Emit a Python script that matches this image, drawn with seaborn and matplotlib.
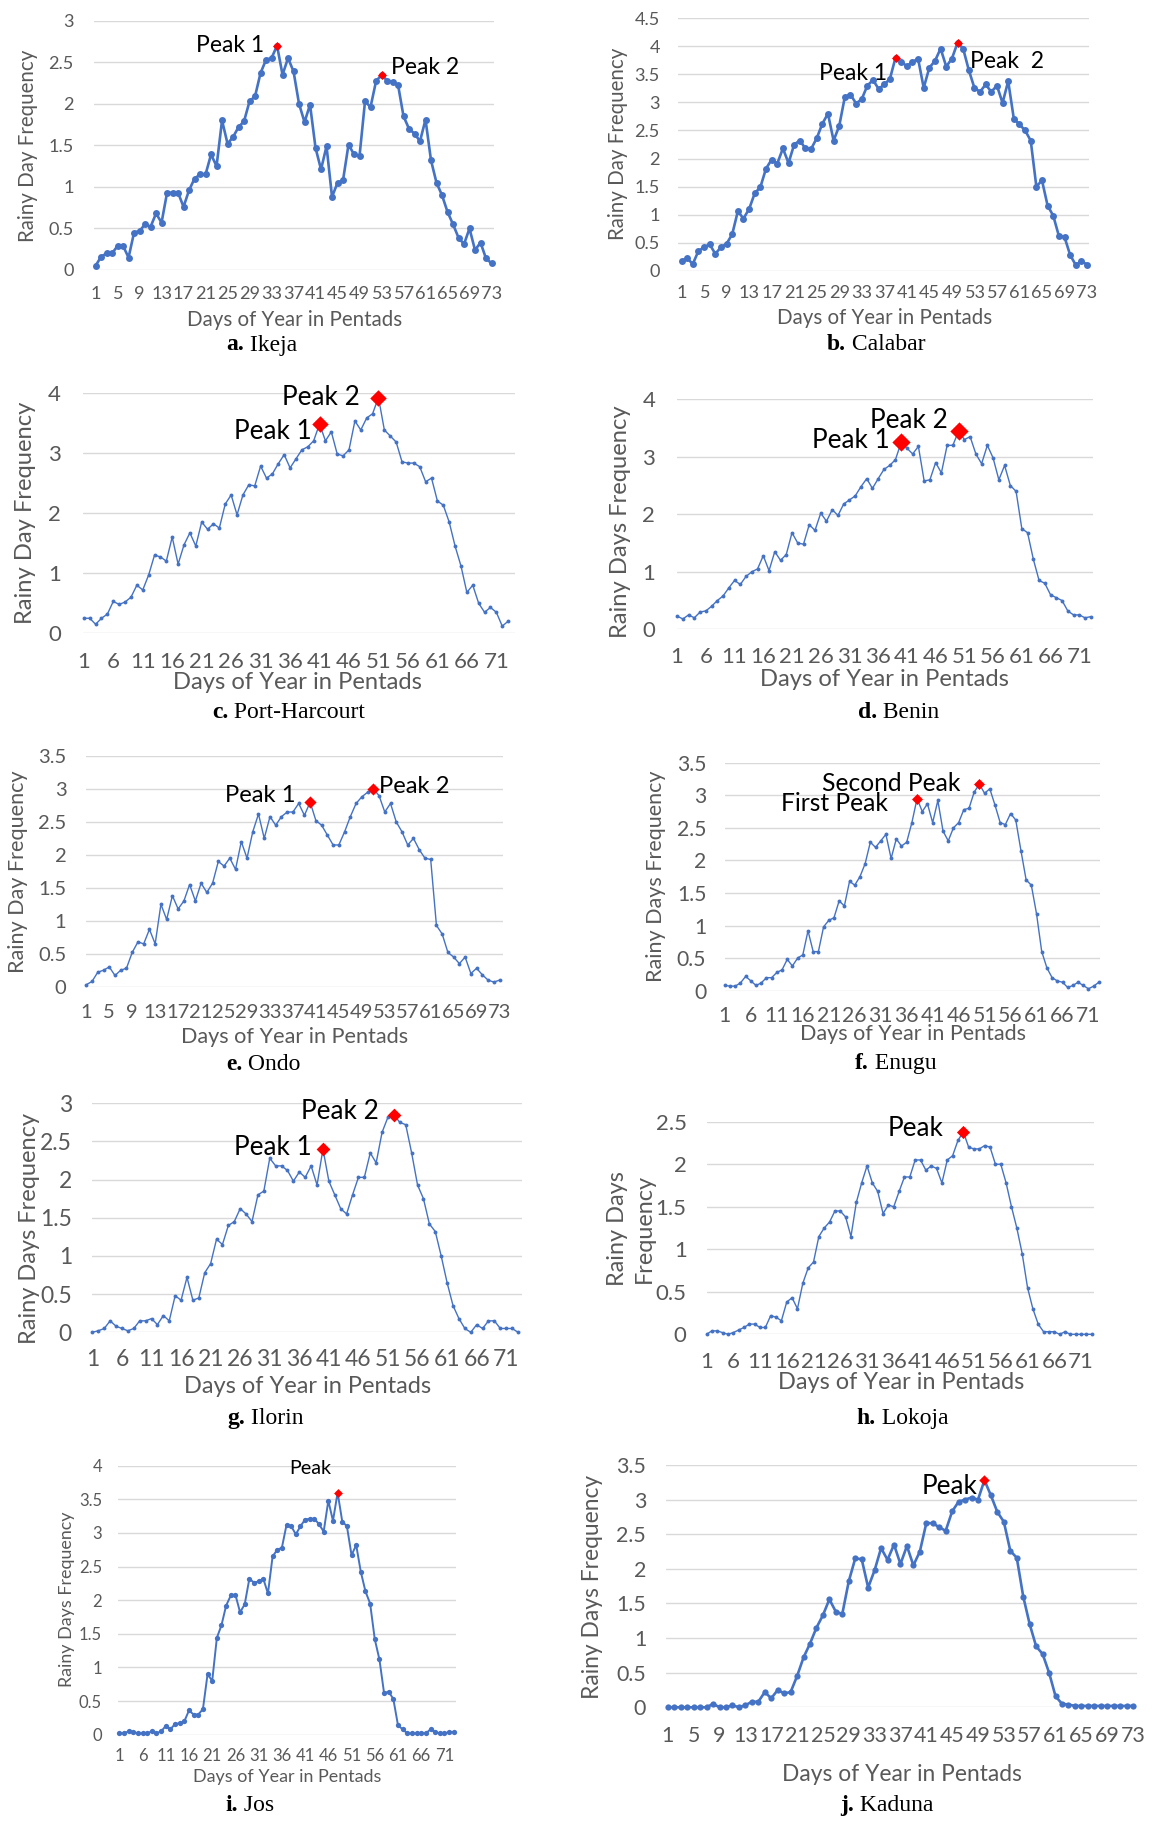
import numpy as np
import pandas as pd
import matplotlib
matplotlib.use("Agg")
import matplotlib.pyplot as plt
from matplotlib.ticker import FuncFormatter
import seaborn as sns

# ---------------------------------------------------------------- data
pentads = list(range(1, 74))

ikeja = [0.05, 0.16, 0.20, 0.20, 0.29, 0.29, 0.15, 0.45, 0.47, 0.55,
         0.52, 0.68, 0.57, 0.93, 0.93, 0.93, 0.76, 0.96, 1.10, 1.15,
         1.15, 1.39, 1.25, 1.80, 1.52, 1.60, 1.72, 1.79, 2.03, 2.09,
         2.37, 2.53, 2.55, 2.70, 2.35, 2.55, 2.39, 2.00, 1.78, 1.99,
         1.47, 1.21, 1.49, 0.88, 1.05, 1.08, 1.51, 1.39, 1.37, 2.03,
         1.96, 2.27, 2.35, 2.28, 2.26, 2.23, 1.85, 1.70, 1.64, 1.55,
         1.81, 1.32, 1.05, 0.90, 0.70, 0.55, 0.39, 0.31, 0.50, 0.24,
         0.33, 0.14, 0.08]

calabar = [0.18, 0.22, 0.12, 0.35, 0.42, 0.47, 0.30, 0.42, 0.48, 0.65,
           1.06, 0.93, 1.10, 1.38, 1.49, 1.82, 1.98, 1.91, 2.18, 1.92,
           2.25, 2.32, 2.18, 2.17, 2.36, 2.62, 2.80, 2.32, 2.58, 3.10,
           3.14, 2.98, 3.06, 3.30, 3.40, 3.24, 3.32, 3.42, 3.80, 3.72,
           3.65, 3.72, 3.78, 3.26, 3.62, 3.74, 3.96, 3.64, 3.78, 4.06,
           3.96, 3.58, 3.26, 3.19, 3.32, 3.19, 3.30, 2.99, 3.38, 2.71,
           2.61, 2.50, 2.32, 1.50, 1.61, 1.16, 0.98, 0.62, 0.60, 0.28,
           0.10, 0.17, 0.11]

port_harcourt = [0.25, 0.25, 0.15, 0.25, 0.32, 0.53, 0.48, 0.52, 0.60, 0.80,
                 0.72, 0.97, 1.30, 1.27, 1.20, 1.60, 1.15, 1.47, 1.67, 1.45,
                 1.85, 1.73, 1.82, 1.75, 2.15, 2.30, 1.97, 2.30, 2.47, 2.45,
                 2.78, 2.58, 2.65, 2.82, 2.97, 2.75, 2.90, 3.05, 3.10, 3.20,
                 3.48, 3.20, 3.35, 2.98, 2.95, 3.05, 3.53, 3.38, 3.58, 3.65,
                 3.92, 3.38, 3.28, 3.18, 2.85, 2.83, 2.83, 2.77, 2.52, 2.58,
                 2.20, 2.13, 1.85, 1.45, 1.12, 0.68, 0.80, 0.50, 0.35, 0.43,
                 0.35, 0.12, 0.20]

benin = [0.23, 0.18, 0.25, 0.20, 0.30, 0.32, 0.40, 0.50, 0.58, 0.72,
         0.85, 0.78, 0.92, 1.00, 1.05, 1.28, 1.02, 1.35, 1.20, 1.30,
         1.68, 1.50, 1.48, 1.82, 1.72, 2.02, 1.88, 2.08, 1.98, 2.18,
         2.25, 2.32, 2.48, 2.62, 2.45, 2.62, 2.78, 2.85, 2.95, 3.25,
         3.15, 3.05, 3.18, 2.58, 2.60, 2.90, 2.72, 3.20, 3.20, 3.45,
         3.30, 3.35, 3.05, 2.88, 3.20, 2.98, 2.60, 2.85, 2.50, 2.40,
         1.75, 1.68, 1.22, 0.85, 0.80, 0.60, 0.55, 0.50, 0.32, 0.25,
         0.25, 0.20, 0.22]

ondo = [0.03, 0.08, 0.22, 0.25, 0.30, 0.17, 0.25, 0.28, 0.52, 0.68,
        0.65, 0.87, 0.65, 1.25, 1.02, 1.38, 1.18, 1.30, 1.55, 1.30,
        1.57, 1.43, 1.57, 1.90, 1.83, 1.95, 1.78, 2.20, 1.95, 2.35,
        2.62, 2.25, 2.58, 2.45, 2.58, 2.65, 2.65, 2.78, 2.60, 2.80,
        2.52, 2.45, 2.30, 2.15, 2.15, 2.35, 2.58, 2.78, 2.88, 2.95,
        3.00, 2.90, 2.65, 2.78, 2.50, 2.35, 2.15, 2.25, 2.08, 1.95,
        1.93, 0.93, 0.80, 0.52, 0.45, 0.35, 0.45, 0.20, 0.28, 0.18,
        0.10, 0.07, 0.10]

enugu = [0.08, 0.07, 0.07, 0.12, 0.22, 0.15, 0.08, 0.12, 0.20, 0.20,
         0.28, 0.32, 0.48, 0.38, 0.50, 0.55, 0.92, 0.60, 0.60, 0.98,
         1.08, 1.12, 1.38, 1.30, 1.68, 1.62, 1.75, 1.95, 2.28, 2.20,
         2.30, 2.40, 2.03, 2.33, 2.22, 2.28, 2.58, 2.95, 2.75, 2.87,
         2.58, 2.92, 2.45, 2.30, 2.50, 2.58, 2.78, 2.80, 3.05, 3.17,
         3.03, 3.10, 2.85, 2.58, 2.55, 2.72, 2.62, 2.15, 1.70, 1.62,
         1.18, 0.60, 0.35, 0.20, 0.15, 0.13, 0.05, 0.08, 0.13, 0.08,
         0.03, 0.07, 0.13]

ilorin = [0.00, 0.02, 0.05, 0.15, 0.08, 0.05, 0.02, 0.05, 0.15, 0.15,
          0.18, 0.10, 0.22, 0.15, 0.48, 0.42, 0.72, 0.42, 0.45, 0.78,
          0.90, 1.22, 1.15, 1.40, 1.45, 1.62, 1.55, 1.45, 1.80, 1.85,
          2.28, 2.18, 2.18, 2.12, 1.98, 2.10, 2.03, 2.18, 1.93, 2.40,
          1.98, 1.80, 1.62, 1.55, 1.80, 2.03, 2.03, 2.35, 2.22, 2.62,
          2.82, 2.85, 2.75, 2.72, 2.35, 1.93, 1.75, 1.42, 1.32, 1.00,
          0.65, 0.35, 0.18, 0.05, 0.00, 0.10, 0.05, 0.15, 0.15, 0.05,
          0.05, 0.05, 0.00]

lokoja = [0.00, 0.04, 0.04, 0.02, 0.00, 0.02, 0.05, 0.08, 0.12, 0.12,
          0.08, 0.08, 0.22, 0.20, 0.16, 0.38, 0.43, 0.30, 0.60, 0.78,
          0.85, 1.15, 1.25, 1.32, 1.45, 1.45, 1.38, 1.15, 1.55, 1.78,
          1.98, 1.78, 1.68, 1.42, 1.52, 1.50, 1.68, 1.85, 1.85, 2.05,
          2.05, 1.93, 1.98, 1.95, 1.78, 2.05, 2.10, 2.28, 2.38, 2.20,
          2.18, 2.18, 2.22, 2.20, 2.00, 2.00, 1.78, 1.50, 1.25, 0.95,
          0.55, 0.30, 0.12, 0.03, 0.03, 0.03, 0.00, 0.03, 0.00, 0.00,
          0.00, 0.00, 0.00]

jos = [0.02, 0.02, 0.05, 0.04, 0.02, 0.02, 0.02, 0.05, 0.02, 0.05,
       0.13, 0.08, 0.16, 0.17, 0.20, 0.36, 0.30, 0.30, 0.38, 0.90,
       0.80, 1.44, 1.63, 1.92, 2.07, 2.08, 1.82, 1.94, 2.32, 2.26,
       2.28, 2.32, 2.10, 2.65, 2.75, 2.78, 3.12, 3.10, 2.98, 3.10,
       3.20, 3.21, 3.21, 3.13, 3.02, 3.48, 3.18, 3.60, 3.17, 3.10,
       2.67, 2.82, 2.42, 2.13, 1.95, 1.42, 1.12, 0.62, 0.64, 0.53,
       0.14, 0.08, 0.02, 0.02, 0.02, 0.02, 0.02, 0.08, 0.04, 0.02,
       0.02, 0.04, 0.04]

kaduna = [0.00, 0.00, 0.00, 0.00, 0.00, 0.00, 0.00, 0.05, 0.00, 0.00,
          0.03, 0.00, 0.03, 0.08, 0.08, 0.22, 0.13, 0.25, 0.20, 0.22,
          0.45, 0.72, 0.92, 1.15, 1.33, 1.56, 1.38, 1.35, 1.82, 2.15,
          2.14, 1.73, 1.98, 2.30, 2.13, 2.35, 2.07, 2.33, 2.05, 2.25,
          2.66, 2.66, 2.60, 2.55, 2.83, 2.97, 3.00, 3.03, 3.00, 3.28,
          3.06, 2.82, 2.68, 2.26, 2.16, 1.60, 1.20, 0.88, 0.77, 0.50,
          0.16, 0.05, 0.04, 0.02, 0.02, 0.02, 0.02, 0.02, 0.02, 0.02,
          0.02, 0.02, 0.02]

# peak pentads and their labels
ikeja_peaks = [(34, "Peak 1"), (53, "Peak 2")]
calabar_peaks = [(39, "Peak 1"), (50, "Peak  2")]
port_harcourt_peaks = [(41, "Peak 1"), (51, "Peak 2")]
benin_peaks = [(40, "Peak 1"), (50, "Peak 2")]
ondo_peaks = [(40, "Peak 1"), (51, "Peak 2")]
enugu_peaks = [(38, "First Peak"), (50, "Second Peak")]
ilorin_peaks = [(40, "Peak 1"), (52, "Peak 2")]
lokoja_peaks = [(49, "Peak")]
jos_peaks = [(48, "Peak")]
kaduna_peaks = [(50, "Peak")]

# ---------------------------------------------------------------- layout
W, H = 1153, 1821
BLUE = "#4472C4"
GREY_TXT = "#595959"
GRID = "#D9D9D9"

# box = (left, top, right, bottom) in pixels; label offsets in pixels
panels = [
    dict(letter="a", name="Ikeja", y=ikeja, peaks=ikeja_peaks,
         box=(93.7, 20.7, 493.7, 270), xlim=(0.66, 73.4), ymax=3, ystep=0.5, xstep=4,
         ylabel="Rainy Day Frequency", ylab_xy=(27.6, 146), xlab_xy=(294.8, 320),
         cap_xy=(261.7, 345), lw=1.9, ms=5.0, dms=4.6,
         tick_fs=13.1, lab_fs=14.8, peak_fs=16.5, xpad=11.5, ypad=14.3,
         offs=[(-13, 0, "right"), (9, 7, "left")]),
    dict(letter="b", name="Calabar", y=calabar, peaks=calabar_peaks,
         box=(678.2, 18.3, 1088.9, 270.7), xlim=(0.41, 73.33), ymax=4.5, ystep=0.5, xstep=4,
         ylabel="Rainy Day Frequency", ylab_xy=(617.9, 144), xlab_xy=(884.3, 318.3),
         cap_xy=(876.3, 345), lw=1.9, ms=5.0, dms=4.6,
         tick_fs=13.1, lab_fs=14.8, peak_fs=16.5, xpad=10.5, ypad=13.2,
         offs=[(-8.4, -15.7, "right"), (12, -19, "left")]),
    dict(letter="c", name="Port-Harcourt", y=port_harcourt, peaks=port_harcourt_peaks,
         box=(82.7, 392.7, 514.6, 633.3), xlim=(0.81, 74.1), ymax=4, ystep=1, xstep=5,
         ylabel="Rainy Day Frequency", ylab_xy=(25.3, 512.5), xlab_xy=(297.5, 682.3),
         cap_xy=(288.4, 712.3), lw=1.0, ms=2.8, dms=8.4,
         tick_fs=16, lab_fs=17.1, peak_fs=18.8, xpad=13.5, ypad=15.8,
         offs=[(-8.2, -7.4, "right"), (-18.4, 0, "right")]),
    dict(letter="d", name="Benin", y=benin, peaks=benin_peaks,
         box=(677.1, 399.3, 1092.5, 629.3), xlim=(1.0, 73.3), ymax=4, ystep=1, xstep=5,
         ylabel="Rainy Days Frequency", ylab_xy=(620.1, 521.7), xlab_xy=(884.8, 680),
         cap_xy=(898.9, 712), lw=1.0, ms=2.8, dms=9.3,
         tick_fs=16, lab_fs=17.1, peak_fs=18.8, xpad=13, ypad=15.8,
         offs=[(-11, 1.7, "right"), (-10.4, 10, "right")]),
    dict(letter="e", name="Ondo", y=ondo, peaks=ondo_peaks,
         box=(86.3, 756, 503.3, 986.7), xlim=(1.0, 73.65), ymax=3.5, ystep=0.5, xstep=4,
         ylabel="Rainy Day Frequency", ylab_xy=(17.6, 871.7), xlab_xy=(294.2, 1036.7),
         cap_xy=(263.4, 1065), lw=1.0, ms=2.8, dms=6.2,
         tick_fs=14.5, lab_fs=15.6, peak_fs=17.1, xpad=12.3, ypad=14.3,
         offs=[(-15, 6.7, "right"), (5.5, 2, "left")]),
    dict(letter="f", name="Enugu", y=enugu, peaks=enugu_peaks,
         box=(724.9, 762.7, 1099.9, 990.7), xlim=(1.0, 73.2), ymax=3.5, ystep=0.5, xstep=5,
         ylabel="Rainy Days Frequency", ylab_xy=(656.2, 876), xlab_xy=(913.3, 1034.3),
         cap_xy=(895.9, 1063.3), lw=1.0, ms=2.8, dms=5.6,
         tick_fs=15.2, lab_fs=15.5, peak_fs=17.7, xpad=11.3, ypad=13.4,
         offs=[(-28.7, -5, "right"), (-19.2, 1, "right")]),
    dict(letter="g", name="Ilorin", y=ilorin, peaks=ilorin_peaks,
         box=(91.8, 1103.3, 521.6, 1332.3), xlim=(0.9, 73.6), ymax=3, ystep=0.5, xstep=5,
         ylabel="Rainy Days Frequency", ylab_xy=(29.4, 1228), xlab_xy=(307.5, 1386.7),
         cap_xy=(265, 1418.3), lw=1.0, ms=2.8, dms=7.0,
         tick_fs=16.5, lab_fs=17, peak_fs=18.8, xpad=12.3, ypad=14.3,
         offs=[(-11, 1.3, "right"), (-14.8, 3.7, "right")]),
    dict(letter="h", name="Lokoja", y=lokoja, peaks=lokoja_peaks,
         box=(706.5, 1121.7, 1094.4, 1334.3), xlim=(1.0, 73.5), ymax=2.5, ystep=0.5, xstep=5,
         ylabel=None, ylab_xy=None, xlab_xy=(901.1, 1382.7),
         cap_xy=(902.2, 1418.3), lw=1.0, ms=2.8, dms=6.7,
         tick_fs=16, lab_fs=16.9, peak_fs=18.8, xpad=12.8, ypad=14.3,
         offs=[(-20.3, 3.7, "right")]),
    dict(letter="i", name="Jos", y=jos, peaks=jos_peaks,
         box=(118.2, 1465.7, 455.5, 1734.7), xlim=(0.76, 73.38), ymax=4, ystep=0.5, xstep=5,
         ylabel="Rainy Days Frequency", ylab_xy=(66.9, 1599), xlab_xy=(287.6, 1777.3),
         cap_xy=(250.2, 1805.7), lw=1.4, ms=3.8, dms=4.5,
         tick_fs=12, lab_fs=12.9, peak_fs=14.2, xpad=9.5, ypad=11.7,
         offs=[(-27.5, 24, "center")]),
    dict(letter="j", name="Kaduna", y=kaduna, peaks=kaduna_peaks,
         box=(666.1, 1465, 1136.7, 1707.3), xlim=(0.73, 73.56), ymax=3.5, ystep=0.5, xstep=4,
         ylabel="Rainy Days Frequency", ylab_xy=(592.5, 1586.7), xlab_xy=(902.3, 1774.3),
         cap_xy=(886.7, 1805.7), lw=1.9, ms=4.5, dms=5.3,
         tick_fs=15.4, lab_fs=16.4, peak_fs=18.8, xpad=13.3, ypad=14.3,
         offs=[(-7.4, -6, "right")]),
]

# ---------------------------------------------------------------- style
sns.set_theme(style="white")
plt.rcParams["font.family"] = ["Lato", "DejaVu Sans"]

fig = plt.figure(figsize=(W / 100, H / 100), dpi=100)
fig.patch.set_facecolor("white")
renderer = fig.canvas.get_renderer()


def fx(x):
    return x / W


def fy(y):
    return 1 - y / H


PX2PT = 72 / 100
CAP_FS = 17

for p in panels:
    l, t, r, b = p["box"]
    ax = fig.add_axes([fx(l), fy(b), (r - l) / W, (b - t) / H])
    df = pd.DataFrame({"pentad": pentads, "freq": p["y"]})
    sns.lineplot(data=df, x="pentad", y="freq", ax=ax, color=BLUE,
                 linewidth=p["lw"], marker="o", markersize=p["ms"],
                 markeredgewidth=0, markerfacecolor=BLUE, clip_on=False,
                 zorder=3)

    # red diamonds on the peaks, taken from the series itself
    pk_x = [pp for pp, _ in p["peaks"]]
    pk_y = [p["y"][pp - 1] for pp in pk_x]
    sns.scatterplot(x=pk_x, y=pk_y, ax=ax, marker="D", s=p["dms"] ** 2,
                    color="#FF0000", linewidth=0, zorder=5)
    for coll in ax.collections:
        coll.set_clip_on(False)
    for (pp, lab), (dx, dy, ha), yy in zip(p["peaks"], p["offs"], pk_y):
        ax.annotate(lab, xy=(pp, yy), xytext=(dx * PX2PT, dy * PX2PT),
                    textcoords="offset points", ha=ha, va="center",
                    fontsize=p["peak_fs"], color="black", zorder=6,
                    annotation_clip=False)

    ax.set_xlim(*p["xlim"])
    ax.set_ylim(0, p["ymax"])
    ax.set_yticks(np.arange(0, p["ymax"] + 1e-9, p["ystep"]))
    ax.set_xticks(pentads[::p["xstep"]])
    ax.yaxis.set_major_formatter(FuncFormatter(lambda v, _: f"{v:g}"))
    ax.grid(False)
    ax.yaxis.grid(True, color=GRID, linewidth=1.0, zorder=0)
    ax.set_axisbelow(True)
    for s in ax.spines.values():
        s.set_visible(False)
    ax.tick_params(axis="both", length=0, colors=GREY_TXT, labelsize=p["tick_fs"])
    ax.tick_params(axis="x", pad=p["xpad"])
    ax.tick_params(axis="y", pad=p["ypad"])
    ax.set_xlabel("")
    ax.set_ylabel("")
    ax.set_facecolor("none")

    # axis titles
    if p["ylabel"]:
        fig.text(fx(p["ylab_xy"][0]), fy(p["ylab_xy"][1]), p["ylabel"],
                 rotation=90, ha="center", va="center",
                 fontsize=p["lab_fs"], color=GREY_TXT)
    fig.text(fx(p["xlab_xy"][0]), fy(p["xlab_xy"][1]), "Days of Year in Pentads",
             ha="center", va="center", fontsize=p["lab_fs"], color=GREY_TXT)

    # caption: bold letter followed by the station name, centred as a whole
    cx, cy = p["cap_xy"]
    t_bold = fig.text(0, fy(cy), p["letter"] + ".", ha="left", va="center",
                      fontsize=CAP_FS, fontweight="bold", family="Liberation Serif",
                      color="black")
    t_name = fig.text(0, fy(cy), "\u00a0" + p["name"], ha="left", va="center",
                      fontsize=CAP_FS, family="Liberation Serif", color="black")
    wb = t_bold.get_window_extent(renderer).width
    wn = t_name.get_window_extent(renderer).width
    x0 = cx - (wb + wn) / 2
    t_bold.set_x(fx(x0))
    t_name.set_x(fx(x0 + wb))

# two-line vertical title of the Lokoja panel
fig.text(fx(617.9), fy(1229), "Rainy Days", rotation=90, ha="center", va="center",
         fontsize=16.9, color=GREY_TXT)
fig.text(fx(644), fy(1228), "Frequency", rotation=90, ha="center", va="center",
         fontsize=16.9, color=GREY_TXT)

fig.savefig("out.png", dpi=100, facecolor="white")
